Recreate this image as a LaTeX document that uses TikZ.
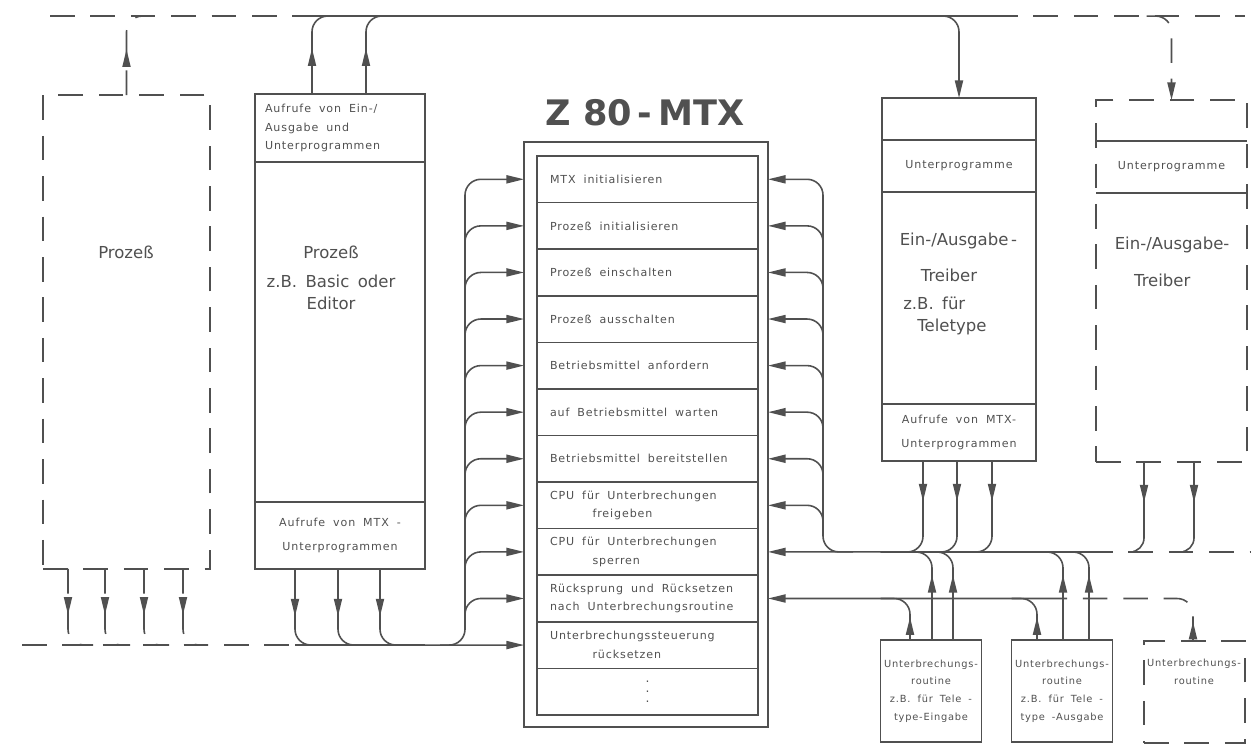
\documentclass[tikz,border=0pt]{standalone}
\usepackage{fontspec}
\setmainfont{DejaVu Sans}
\newfontfamily\kleinfont[LetterSpace=8,WordSpace=3.2]{DejaVu Sans}
\newfontfamily\ubfont[LetterSpace=8,WordSpace=1.8]{DejaVu Sans}
\newfontfamily\mittelfont[WordSpace=1.6]{DejaVu Sans}
\usepackage{xcolor}
\usepackage{tikz}
\usetikzlibrary{positioning,calc,arrows.meta,decorations.markings}
\definecolor{ink}{HTML}{505050}
\tikzset{
  kasten/.style={draw, outer sep=0pt, inner sep=2pt},
  dashbox/.style={dash pattern=on 14pt off 9pt},
  dashkasten/.style={draw, dashbox, outer sep=0pt},
  klein/.style={font=\kleinfont\fontsize{6.3}{10.5}\selectfont},
  mittel/.style={font=\mittelfont\fontsize{9.4}{12.5}\selectfont, inner sep=0pt},
  titel/.style={font=\bfseries\fontsize{20}{24}\selectfont},
  zeile/.style={kasten, klein, minimum width=4.42cm, minimum height=0.9317cm, text width=3.9cm, align=flush left},
  ubkasten/.style={minimum width=2.02cm, minimum height=2.04cm, align=center, font=\ubfont\fontsize{5.6}{10}\selectfont},
  midarr/.style={postaction={decorate, decoration={markings, mark=at position #1 with {\arrow{Triangle[length=10pt,width=4.6pt]}}}}}
}

\begin{document}
\begin{tikzpicture}[x=0.02cm, y=-0.02cm, color=ink, line width=0.9pt,
  >={Triangle[length=10pt,width=4.6pt]}]
\useasboundingbox (0,0) rectangle (1254,752);

\coordinate (tl0) at (50,16);
\coordinate (tl1) at (303,16);
\coordinate (tl2) at (993,16);
\coordinate (tl3) at (1245,16);
\coordinate (bl0) at (22,645);
\coordinate (bl1) at (295,645);
\coordinate (lbus) at (465,0);
\coordinate (rbus) at (823,0);
\coordinate (r9e) at (1088,552);
\coordinate (r9f) at (1250,552);
\coordinate (r10e) at (1060,598.5);

\node[dashkasten, minimum width=3.34cm, minimum height=9.48cm] (proc2) at (126.5,332) {};
\node[mittel] (proc2t) at (126,252) {Prozeß};

\node[kasten, klein, minimum width=3.4cm, minimum height=1.36cm, text width=3cm, align=flush left] (pin) at (340,128)
  {Aufrufe von Ein-/\\Ausgabe und\\Unterprogrammen};
\node[kasten, minimum width=3.4cm, minimum height=6.8cm, below=0pt of pin] (proc) {};
\node[mittel, align=center] (proct) at (331,278) {Prozeß\\[4pt]z.B. Basic oder\\Editor};
\node[kasten, klein, minimum width=3.4cm, minimum height=1.34cm, align=center, below=0pt of proc] (pmtx)
  {Aufrufe von MTX -\\[3.5pt]Unterprogrammen};

\node[titel] (titel) at (645,113) {Z 80\,-\,MTX};
\node[kasten, minimum width=4.88cm, minimum height=11.7cm] (mtx) at (646,434.5) {};
\coordinate (r0) at (647.5,156);
\foreach \txt [count=\i, remember=\i as \j (initially 0)] in {
  MTX initialisieren, Prozeß initialisieren, Prozeß einschalten, Prozeß ausschalten,
  Betriebsmittel anfordern, auf Betriebsmittel warten, Betriebsmittel bereitstellen,
  CPU für Unterbrechungen\\\hspace*{8.5mm}freigeben,
  CPU für Unterbrechungen\\\hspace*{8.5mm}sperren,
  Rücksprung und Rücksetzen\\nach Unterbrechungsroutine,
  Unterbrechungssteuerung\\\hspace*{8.5mm}rücksetzen}
  \node[zeile, below=0pt of r\j] (r\i) {\txt};
\node[zeile, align=center, font=\kleinfont\fontsize{7}{5.7}\selectfont, below=0pt of r11] (r12) {.\\.\\.};

\node[kasten, minimum width=3.08cm, minimum height=0.84cm] (ioempty) at (959,119) {};
\node[kasten, klein, minimum width=3.08cm, minimum height=1.04cm, below=0pt of ioempty] (iosub) {Unterprogramme};
\node[kasten, minimum width=3.08cm, minimum height=4.24cm, below=0pt of iosub] (iodrv) {};
\node[mittel, align=flush left, anchor=west] (iodrvt) at (899,284)
  {Ein-/Ausgabe\,-\\[8pt]\hspace*{12pt}Treiber\\[3pt]\hspace*{2pt}z.B. für\\\hspace*{10pt}Teletype};
\node[kasten, klein, minimum width=3.08cm, minimum height=1.14cm, align=center, below=0pt of iodrv] (iocalls)
  {Aufrufe von MTX-\\[3.5pt]Unterprogrammen};

\node[dashkasten, minimum width=3.02cm, minimum height=7.24cm] (dio) at (1171.5,281) {};
\node[klein, outer sep=0pt, minimum width=3.02cm, minimum height=1.04cm] (dsub) at (1171.5,167) {Unterprogramme};
\draw (dsub.north west) -- (dsub.north east) (dsub.south west) -- (dsub.south east);
\node[mittel, align=flush left, anchor=west] (dtreib) at (1114,262) {Ein-/Ausgabe-\\[8.5pt]\hspace*{11pt}Treiber};

\node[kasten, ubkasten] (ubA) at (931,691) {Unterbrechungs-\\routine\\z.B. für Tele -\\type-Eingabe};
\node[kasten, ubkasten] (ubB) at (1062,691) {Unterbrechungs-\\routine\\z.B. für Tele -\\type -Ausgabe};
\node[dashkasten, minimum width=2.02cm, minimum height=2.04cm] (ubC) at (1194.5,692) {};
\node[ubkasten, minimum height=0pt] (ubCt) at (1194,672) {Unterbrechungs-\\routine};

\draw[dashbox] (tl0) -- (tl1);
\draw (tl1) -- (tl2);
\draw[dashbox] (tl2) -- (tl3);
\draw[dashbox, rounded corners=9pt, midarr=26pt] (proc2.north) |- ++(25,-79);
\foreach \dx in {-28,26}
  \draw[rounded corners=9pt, midarr=26pt] ($(pin.north)+(\dx,0)$) |- (tl1 -| pin.east);
\draw[->, rounded corners=9pt] (tl2 -| iodrv.west) -| (ioempty.north);
\draw[dashbox, ->, rounded corners=9pt] ($(dio.north)+(-25,-84)$) -| (dio.north);

\draw[dashbox] (bl0) -- (bl1);
\draw[->] (bl1) -- (r11 -| mtx.west);
\foreach \dx in {-58.5,-21.5,17.5,56.5}
  \draw[dashbox, rounded corners=9pt, midarr=26pt] ($(proc2.south)+(\dx,0)$) |- ++(25,76);
\foreach \dx in {-45,-2,40}
  \draw[rounded corners=9pt, midarr=27pt] ($(pmtx.south)+(\dx,0)$) |- (bl1 -| pmtx.east);

\draw[->, rounded corners=9pt] ($(lbus |- r11)+(-25,0)$) -| (lbus |- r1) -- (r1 -| mtx.west);
\foreach \i in {2,...,10}
  \draw[->, rounded corners=9pt] ($(lbus |- r\i)+(0,30)$) -- (lbus |- r\i) -- (r\i -| mtx.west);

\draw[->, rounded corners=9pt] ($(rbus |- r9)+(30,0)$) -| (rbus |- r1) -- (r1 -| mtx.east);
\foreach \i in {2,...,8}
  \draw[->, rounded corners=9pt] ($(rbus |- r\i)+(0,30)$) -- (rbus |- r\i) -- (r\i -| mtx.east);
\draw[->] (r9e) -- (r9 -| mtx.east);
\draw[dashbox] (r9e) -- (r9f);
\draw[->] (r10e) -- (r10 -| mtx.east);

\foreach \dx in {-36,-2,33}
  \draw[rounded corners=9pt, midarr=23pt] ($(iocalls.south)+(\dx,0)$) |- (r9e -| iocalls.west);
\foreach \dx in {-27.5,22.5}{
  \draw[midarr=23pt] ($(dio.south)+(\dx,0)$) -- ++(0,70) coordinate (dq);
  \draw[dashbox, rounded corners=8pt] (dq) |- ++(-25,20);
}

\draw[rounded corners=9pt, midarr=13pt] ($(ubA.north)+(-21,0)$) |- (r10e -| ubA.west);
\foreach \dx in {1,22}
  \draw[rounded corners=9pt, midarr=37pt] ($(ubA.north)+(\dx,0)$) |- (r9e -| ubA.west);
\draw[rounded corners=9pt, midarr=13pt] ($(ubB.north)+(-25,0)$) |- (r10e -| ubB.west);
\foreach \dx in {1,27}
  \draw[rounded corners=9pt, midarr=37pt] ($(ubB.north)+(\dx,0)$) |- (r9e -| ubB.west);
\draw[dashbox, rounded corners=9pt, midarr=11pt] ($(ubC.north)+(-1.5,0)$) |- (r10e);
\end{tikzpicture}
\end{document}
